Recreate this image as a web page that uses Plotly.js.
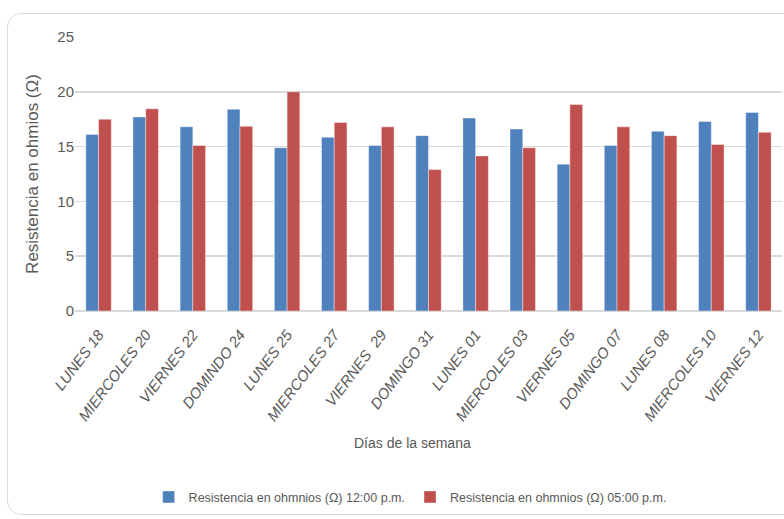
<!DOCTYPE html>
<html>
<head>
<meta charset="utf-8">
<script src="https://cdn.plot.ly/plotly-3.0.1.min.js"></script>
<style>
  html, body { margin: 0; padding: 0; background: #ffffff; overflow: hidden; }
  #frame { position: absolute; left: 7px; top: 13px; width: 820px; height: 502px;
           border: 1.5px solid #d9d9d9; border-radius: 14px; box-sizing: border-box; }
  #chart { position: absolute; left: 0; top: 0; width: 784px; height: 519px; }
</style>
</head>
<body>
<div id="frame"></div>
<div id="chart"></div>
<script>
const categories = ["LUNES 18", "MIERCOLES 20", "VIERNES 22", "DOMINDO 24", "LUNES 25",
  "MIERCOLES 27", "VIERNES  29", "DOMINGO 31", "LUNES 01", "MIERCOLES 03",
  "VIERNES 05", "DOMINGO 07", "LUNES 08", "MIERCOLES 10", "VIERNES 12"];
const noon = [16.1, 17.7, 16.8, 18.4, 14.9, 15.85, 15.1, 16.0, 17.6, 16.6, 13.4, 15.1, 16.4, 17.3, 18.1];
const five = [17.5, 18.45, 15.1, 16.85, 20.0, 17.2, 16.8, 12.9, 14.15, 14.9, 18.85, 16.8, 16.0, 15.2, 16.3];
const seriesNames = ["Resistencia en ohmnios (\u03A9) 12:00 p.m.", "Resistencia en ohmnios (\u03A9) 05:00 p.m."];
const yTicks = [0, 5, 10, 15, 20, 25];
const xTitle = "D\u00edas de la semana";
const yTitle = "Resistencia en ohmios (\u03A9)";

const fontFam = "'Liberation Sans', Arial, sans-serif";
const gray = "#595959";

const traces = [
  { type: "bar", name: seriesNames[0], x: categories, y: noon,
    marker: { color: "#4f81bd", line: { color: "rgba(255,255,255,0.5)", width: 0.8 } } },
  { type: "bar", name: seriesNames[1], x: categories, y: five,
    marker: { color: "#c0504d", line: { color: "rgba(255,255,255,0.5)", width: 0.8 } } }
];

const layout = {
  width: 784, height: 519,
  margin: { l: 75, r: 2, t: 37, b: 208 },
  paper_bgcolor: "rgba(0,0,0,0)",
  plot_bgcolor: "rgba(0,0,0,0)",
  barmode: "group",
  bargap: 0.46,
  bargroupgap: 0,
  font: { family: fontFam, color: gray, size: 14 },
  showlegend: true,
  legend: { orientation: "h", x: 0.474, xanchor: "center", y: -0.68, yanchor: "middle",
            font: { family: fontFam, size: 12.5, color: gray }, traceorder: "normal" },
  annotations: [
    { text: xTitle, xref: "paper", yref: "paper", x: 0.478, y: -0.482,
      xanchor: "center", yanchor: "middle", showarrow: false,
      font: { family: fontFam, size: 14, color: gray } }
  ],
  xaxis: {
    type: "category",
    tickangle: -53,
    tickvals: categories,
    ticktext: categories.map(c => "<i>" + c + "</i>"),
    tickfont: { family: fontFam, size: 15, color: gray },
    showgrid: false, showline: false, zeroline: false,
    ticks: "outside", ticklen: 8, tickcolor: "rgba(0,0,0,0)",
    automargin: false
  },
  yaxis: {
    range: [0, 25],
    tickvals: yTicks,
    ticktext: yTicks.map(String),
    tickfont: { family: fontFam, size: 15, color: gray },
    showgrid: true, gridcolor: "#d9d9d9", gridwidth: 1.5,
    zeroline: true, zerolinecolor: "#d9d9d9", zerolinewidth: 1.5,
    showline: false, ticks: "", ticklen: 0, automargin: false,
    title: { text: yTitle, font: { family: fontFam, size: 17, color: gray }, standoff: 14 }
  }
};

Plotly.newPlot("chart", traces, layout, { displayModeBar: false, staticPlot: true });
</script>
</body>
</html>
